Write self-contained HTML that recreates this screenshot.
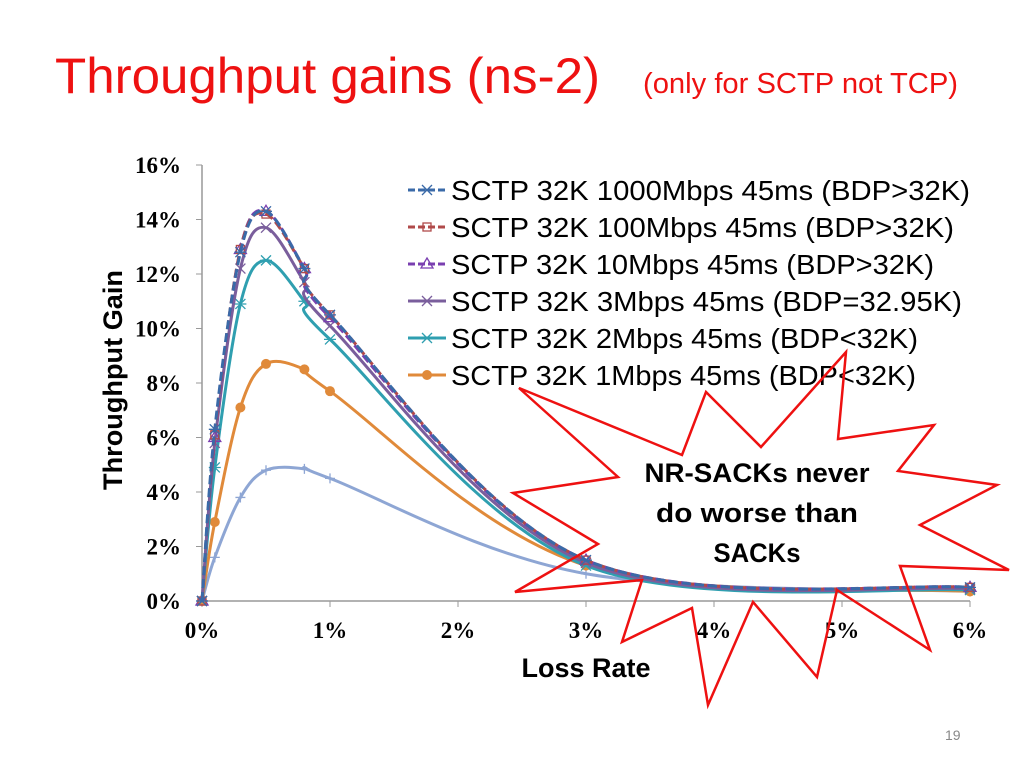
<!DOCTYPE html>
<html><head><meta charset="utf-8"><style>
body{margin:0;background:#fff;width:1024px;height:768px;overflow:hidden}
svg{display:block}
</style></head><body>
<svg width="1024" height="768" xmlns="http://www.w3.org/2000/svg">
<text x="55" y="93" font-family="Liberation Sans, sans-serif" font-size="50" fill="#ee1111" textLength="545" lengthAdjust="spacingAndGlyphs">Throughput gains (ns-2)</text>
<text x="643" y="93" font-family="Liberation Sans, sans-serif" font-size="29" fill="#ee1111" textLength="315" lengthAdjust="spacingAndGlyphs">(only for SCTP not TCP)</text>
<g id="chart"></g>
<text x="945" y="740" font-family="Liberation Sans, sans-serif" font-size="14" fill="#888">19</text>
</svg>
<script>
const xVals=[0,0.1,0.3,0.5,0.8,1.0,3.0,6.0];
const s1000=[0,6.3,12.8,14.3,12.2,10.5,1.5,0.5];
const s100=[0,6.1,12.9,14.2,12.2,10.5,1.5,0.5];
const s10=[0,6.0,12.9,14.3,12.2,10.4,1.5,0.5];
const s3=[0,5.8,12.2,13.7,11.7,10.1,1.4,0.45];
const s2=[0,4.9,10.9,12.5,11.0,9.6,1.3,0.4];
const s1=[0,2.9,7.1,8.7,8.5,7.7,1.3,0.35];
const sBase=[0,1.6,3.8,4.8,4.85,4.5,1.0,0.35];
const yTicks=[0,2,4,6,8,10,12,14,16];
const xTicks=[0,1,2,3,4,5,6];
const legendLabels=["SCTP 32K 1000Mbps 45ms (BDP>32K)","SCTP 32K 100Mbps 45ms (BDP>32K)","SCTP 32K 10Mbps 45ms (BDP>32K)","SCTP 32K 3Mbps 45ms (BDP=32.95K)","SCTP 32K 2Mbps 45ms (BDP<32K)","SCTP 32K 1Mbps 45ms (BDP<32K)"];
const NS="http://www.w3.org/2000/svg";
const g=document.getElementById('chart');
const X=v=>202+v*128, Y=v=>601-v*27.25;
function el(t,a,p){const e=document.createElementNS(NS,t);for(const k in a)e.setAttribute(k,a[k]);(p||g).appendChild(e);return e;}
let ax=el('line',{x1:202,y1:165,x2:202,y2:601,stroke:'#999','stroke-width':1.5});

let axx=el('line',{x1:202,y1:601,x2:970,y2:601,stroke:'#999','stroke-width':1.5});

yTicks.forEach(v=>{el('line',{x1:196,x2:202,y1:Y(v),y2:Y(v),stroke:'#999'});
 const t=el('text',{x:181,y:Y(v)+8,'text-anchor':'end','font-family':'Liberation Serif, serif','font-weight':'bold','font-size':23});t.textContent=v+'%';
 });
xTicks.forEach(v=>{el('line',{x1:X(v),x2:X(v),y1:601,y2:607,stroke:'#999'});
 const t=el('text',{x:X(v),y:638,'text-anchor':'middle','font-family':'Liberation Serif, serif','font-weight':'bold','font-size':23});t.textContent=v+'%';
 });
let yt=el('text',{transform:'translate(122,380) rotate(-90)','text-anchor':'middle','font-family':'Liberation Sans, sans-serif','font-weight':'bold','font-size':27,textLength:220,lengthAdjust:'spacingAndGlyphs'});yt.textContent='Throughput Gain';

let xt=el('text',{x:586,y:677,'text-anchor':'middle','font-family':'Liberation Sans, sans-serif','font-weight':'bold','font-size':27});xt.textContent='Loss Rate';

function path(vals){const p=xVals.map((x,i)=>[X(x),Y(vals[i])]);let d='M'+p[0];
 for(let i=0;i<p.length-1;i++){const p0=p[i-1]||p[i],p1=p[i],p2=p[i+1],p3=p[i+2]||p2;
  d+=' C'+(p1[0]+(p2[0]-p0[0])/6)+','+(p1[1]+(p2[1]-p0[1])/6)+' '+(p2[0]-(p3[0]-p1[0])/6)+','+(p2[1]-(p3[1]-p1[1])/6)+' '+p2;}
 return d;}
const series=[[sBase,'#8ea6d4',false,'plus'],[s1,'#e08a3a',false,'dot'],[s2,'#2f9fb0',false,'star'],[s3,'#7a5e9c',false,'x'],[s10,'#7a3fb0',true,'tri'],[s100,'#b04a4a',true,'sq'],[s1000,'#3a6aa8',true,'star']];
function marker(type,x,y,c,parent){
 if(type==='dot')return el('circle',{cx:x,cy:y,r:5,fill:c},parent);
 if(type==='sq')return el('rect',{x:x-4,y:y-4,width:8,height:8,fill:'none',stroke:c,'stroke-width':1.3},parent);
 if(type==='tri')return el('path',{d:`M${x},${y-6}L${x+6},${y+4}L${x-6},${y+4}Z`,fill:'none',stroke:c,'stroke-width':1.3},parent);
 if(type==='plus')return el('path',{d:`M${x-5},${y}H${x+5}M${x},${y-5}V${y+5}`,stroke:c,'stroke-width':1.3},parent);
 if(type==='x')return el('path',{d:`M${x-5},${y-5}L${x+5},${y+5}M${x+5},${y-5}L${x-5},${y+5}`,stroke:c,'stroke-width':1.3},parent);
 return el('path',{d:`M${x-5},${y-5}L${x+5},${y+5}M${x+5},${y-5}L${x-5},${y+5}M${x-6},${y}H${x+6}`,stroke:c,'stroke-width':1.3},parent);
}
series.forEach((s,i)=>{const grp=el('g',{});
 
 const a={d:path(s[0]),fill:'none',stroke:s[1],'stroke-width':3};if(s[2])a['stroke-dasharray']='9,4';
 el('path',a,grp);
 xVals.forEach((x,j)=>{const m=marker(s[3],X(x),Y(s[0][j]),s[1],grp);
  });
});
const legSeries=[series[6],series[5],series[4],series[3],series[2],series[1]];
const legW=[519,503,483,511,467,465];
legendLabels.forEach((lab,i)=>{const y=190+i*37;const grp=el('g',{});
 
 const s=legSeries[i];const a={x1:408,x2:446,y1:y,y2:y,stroke:s[1],'stroke-width':3};if(s[2])a['stroke-dasharray']='7,3';
 el('line',a,grp);marker(s[3],427,y,s[1],grp);
 const t=el('text',{x:451,y:y+10,'font-family':'Liberation Sans, sans-serif','font-size':28,textLength:legW[i],lengthAdjust:'spacingAndGlyphs'},grp);t.textContent=lab;});
const star=[[519,388],[682,455],[706,392],[761,447],[846,352],[838,439],[934,425],[898,471],[997,485],[920,525],[1009,570],[900,566],[930,650],[837,590],[817,677],[753,602],[708,705],[692,608],[622,642],[642,580],[515,592],[598,544],[513,493],[618,477]];
const sb=el('polygon',{points:star.map(p=>p.join(',')).join(' '),fill:'none',stroke:'#ee1111','stroke-width':2.5});

[['NR-SACKs never',225],['do worse than',202],['SACKs',87]].forEach((l,i)=>{const t=el('text',{x:757,y:482+i*40,'text-anchor':'middle','font-family':'Liberation Sans, sans-serif','font-weight':'bold','font-size':27,textLength:l[1],lengthAdjust:'spacingAndGlyphs'});t.textContent=l[0];
 });
</script>
</body></html>
